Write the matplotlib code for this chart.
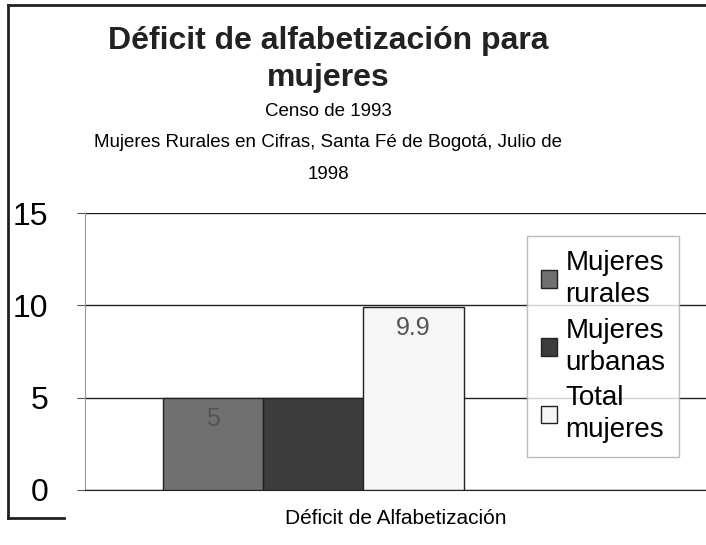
import numpy as np
import matplotlib.pyplot as plt
from matplotlib.lines import Line2D

plt.rcParams['font.family'] = ['Liberation Sans', 'DejaVu Sans']

categoria = "Déficit de Alfabetización"
series = ["Mujeres\nrurales", "Mujeres\nurbanas", "Total\nmujeres"]
valores = [5, 5, 9.9]
colores = ["#707070", "#3c3c3c", "#f6f6f6"]
etiquetas = ["5", "", "9.9"]

fig = plt.figure(figsize=(7.06, 5.45), dpi=100)
ax = fig.add_axes([0.120, 0.101, 0.880, 0.508])

pos = np.arange(len(valores)) - 1
barras = ax.bar(pos, valores, width=1.0, color=colores, edgecolor="#222222",
                linewidth=1.0, label=series, zorder=3)
for b, t in zip(barras, etiquetas):
    ax.text(b.get_x() + b.get_width() / 2, b.get_height() - 0.5, t,
            ha="center", va="top", fontsize=18, color="#555555", zorder=4)

ax.set_xlim(-2.28, 3.92)
ax.set_ylim(0, 15)
ax.set_yticks([0, 5, 10, 15])
ax.tick_params(axis="y", labelsize=23, length=6, color="#555555", pad=20)
ax.set_xticks([])
ax.yaxis.grid(True, color="#222222", linewidth=1.0, zorder=0)
for s in ["top", "right"]:
    ax.spines[s].set_visible(False)
ax.spines["left"].set_color("#999999")
ax.spines["bottom"].set_color("#222222")
ax.set_xlabel(categoria, fontsize=15, labelpad=14)

fig.text(0.465, 0.925, "Déficit de alfabetización para", ha="center", va="center",
         fontsize=23, fontweight="bold", color="#222222")
fig.text(0.465, 0.857, "mujeres", ha="center", va="center",
         fontsize=23, fontweight="bold", color="#222222")
fig.text(0.465, 0.795, "Censo de 1993", ha="center", va="center", fontsize=13.5)
fig.text(0.465, 0.738, "Mujeres Rurales en Cifras, Santa Fé de Bogotá, Julio de",
         ha="center", va="center", fontsize=13.5)
fig.text(0.465, 0.679, "1998", ha="center", va="center", fontsize=13.5)

leg = fig.legend(handles=barras, labels=series, loc="upper left",
                 bbox_to_anchor=(0.746, 0.567), fontsize=20, frameon=True,
                 fancybox=False, edgecolor="#aaaaaa", handlelength=0.6,
                 handleheight=0.6, handletextpad=0.3, labelspacing=0.35,
                 borderpad=0.5, borderaxespad=0)
leg.get_frame().set_linewidth(1.0)
for t in leg.get_texts():
    t.set_linespacing(1.3)

# marco exterior
fig.add_artist(Line2D([0.012, 0.012], [0.05, 0.99], color="#222222", lw=2))
fig.add_artist(Line2D([0.012, 1.0], [0.99, 0.99], color="#222222", lw=2))
fig.add_artist(Line2D([0.012, 0.09], [0.05, 0.05], color="#222222", lw=2))

fig.savefig("out.png", dpi=100)
